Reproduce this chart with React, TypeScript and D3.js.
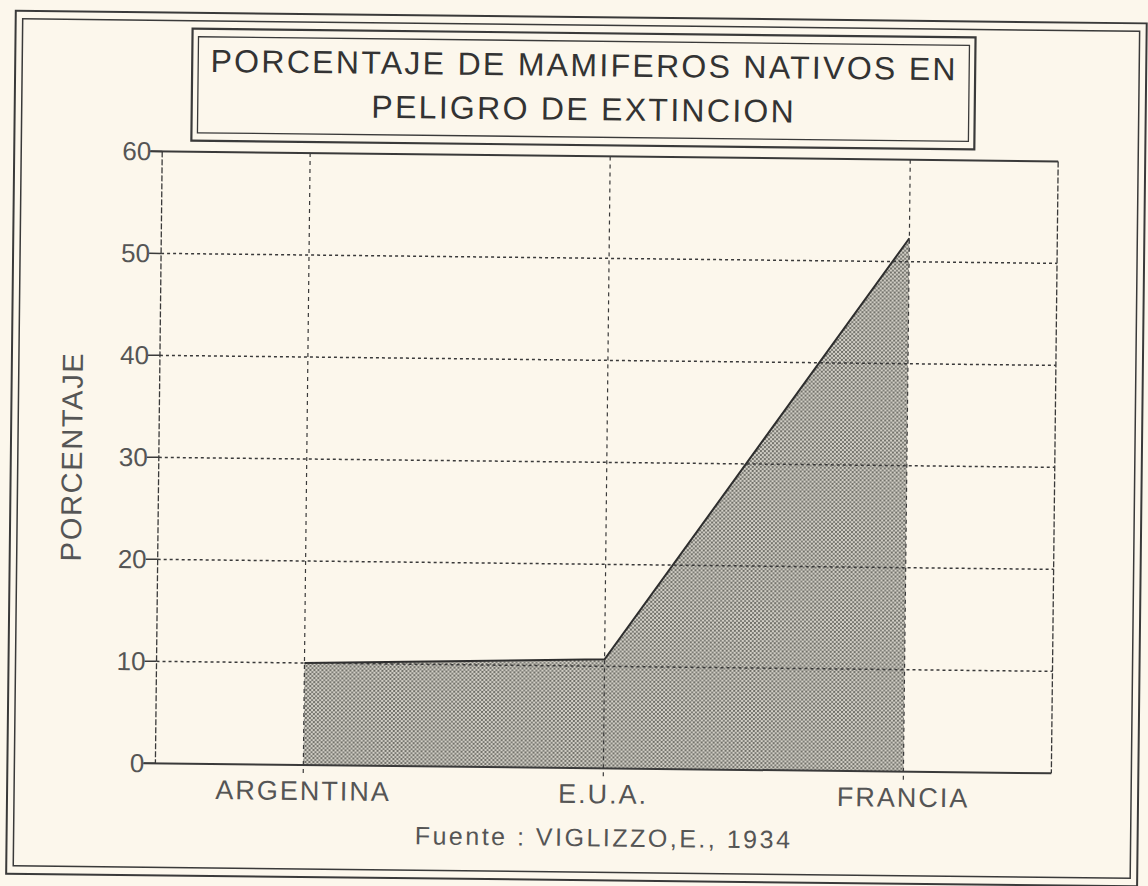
import { useMemo } from "react";
import * as d3 from "d3";

const categories = ["ARGENTINA", "E.U.A.", "FRANCIA"];
const values = [10, 10.7, 52.3];
const yTicks = [0, 10, 20, 30, 40, 50, 60];
const titleLines = ["PORCENTAJE DE MAMIFEROS NATIVOS EN", "PELIGRO DE EXTINCION"];
const yLabel = "PORCENTAJE";
const source = "Fuente : VIGLIZZO,E., 1934";

const W = 1148;
const H = 886;
const plot = { left: 159, right: 1055, top: 156, bottom: 768 };
const ink = "#3a3a3a";
const font = "'Liberation Sans', Arial, Helvetica, sans-serif";

export default function App() {
  const x = useMemo(
    () => d3.scalePoint<string>().domain(categories).range([plot.left, plot.right]).padding(0.493),
    []
  );
  const y = useMemo(() => d3.scaleLinear().domain([0, 60]).range([plot.bottom, plot.top]), []);

  const area = d3
    .area<number>()
    .x((_, i) => x(categories[i]) as number)
    .y0(y(0))
    .y1((d) => y(d))(values);
  const line = d3
    .line<number>()
    .x((_, i) => x(categories[i]) as number)
    .y((d) => y(d))(values);

  return (
    <svg width={W} height={H} style={{ position: "absolute", left: 0, top: 0 }}>
      <defs>
        <pattern id="stipple" width="4" height="4" patternUnits="userSpaceOnUse">
          <rect width="4" height="4" fill="#d2cfc6" />
          <circle cx="1" cy="1" r="1.1" fill="#66665f" />
          <circle cx="3" cy="3" r="1.1" fill="#73736d" />
        </pattern>
      </defs>
      <rect width={W} height={H} fill="#fcf7ec" />
      <g transform="rotate(0.64 574 443)" fontFamily={font}>
        {/* outer double frame */}
        <rect x={11} y={17} width={1131} height={863} fill="none" stroke={ink} strokeWidth={2} />
        <rect x={18} y={25} width={1117} height={847} fill="none" stroke={ink} strokeWidth={1.5} />

        {/* title box */}
        <rect x={188} y={33} width={783} height={112} fill="none" stroke={ink} strokeWidth={2.2} />
        <rect x={194} y={41} width={771} height={96} fill="none" stroke={ink} strokeWidth={1.3} />
        {titleLines.map((t, i) => (
          <text
            key={t}
            x={580}
            y={76 + i * 44}
            textAnchor="middle"
            fontSize={32}
            fill="#333"
            letterSpacing={2.3}
          >
            {t}
          </text>
        ))}

        {/* area */}
        <path d={area ?? ""} fill="url(#stipple)" />
        <path d={line ?? ""} fill="none" stroke="#2e2e2e" strokeWidth={2} />

        {/* horizontal grid */}
        {yTicks
          .filter((t) => t > 0 && t < 60)
          .map((t) => (
            <line
              key={t}
              x1={plot.left}
              x2={plot.right}
              y1={y(t)}
              y2={y(t)}
              stroke={ink}
              strokeWidth={1.5}
              strokeDasharray="3 3"
            />
          ))}
        {/* vertical grid */}
        {categories.map((c) => (
          <line
            key={c}
            x1={x(c)}
            x2={x(c)}
            y1={plot.top}
            y2={plot.bottom + 8}
            stroke={ink}
            strokeWidth={1.2}
            strokeDasharray="4 4"
          />
        ))}

        {/* plot frame */}
        <line x1={plot.left - 12} x2={plot.right} y1={plot.top} y2={plot.top} stroke={ink} strokeWidth={2} />
        <line x1={plot.left - 12} x2={plot.right} y1={plot.bottom} y2={plot.bottom} stroke={ink} strokeWidth={2} />
        <line x1={plot.left} x2={plot.left} y1={plot.top} y2={plot.bottom} stroke={ink} strokeWidth={1.3} strokeDasharray="6 2" />
        <line x1={plot.right} x2={plot.right} y1={plot.top} y2={plot.bottom} stroke={ink} strokeWidth={1.3} strokeDasharray="6 2" />

        {/* y ticks */}
        {yTicks.map((t) => (
          <g key={t}>
            <line x1={plot.left - 12} x2={plot.left} y1={y(t)} y2={y(t)} stroke={ink} strokeWidth={1.5} />
            <text x={plot.left - 11} y={y(t) + 9} textAnchor="end" fontSize={26} fill="#555">
              {t}
            </text>
          </g>
        ))}

        {/* x labels */}
        {categories.map((c) => (
          <text key={c} x={x(c)} y={803} textAnchor="middle" fontSize={27} fill="#555" letterSpacing={2}>
            {c}
          </text>
        ))}

        <text x={608} y={846} textAnchor="middle" fontSize={25} fill="#555" letterSpacing={2.5}>
          {source}
        </text>

        <text
          transform={`translate(82 462) rotate(-90)`}
          textAnchor="middle"
          fontSize={29}
          fill="#555"
          letterSpacing={1.7}
        >
          {yLabel}
        </text>
      </g>
    </svg>
  );
}
